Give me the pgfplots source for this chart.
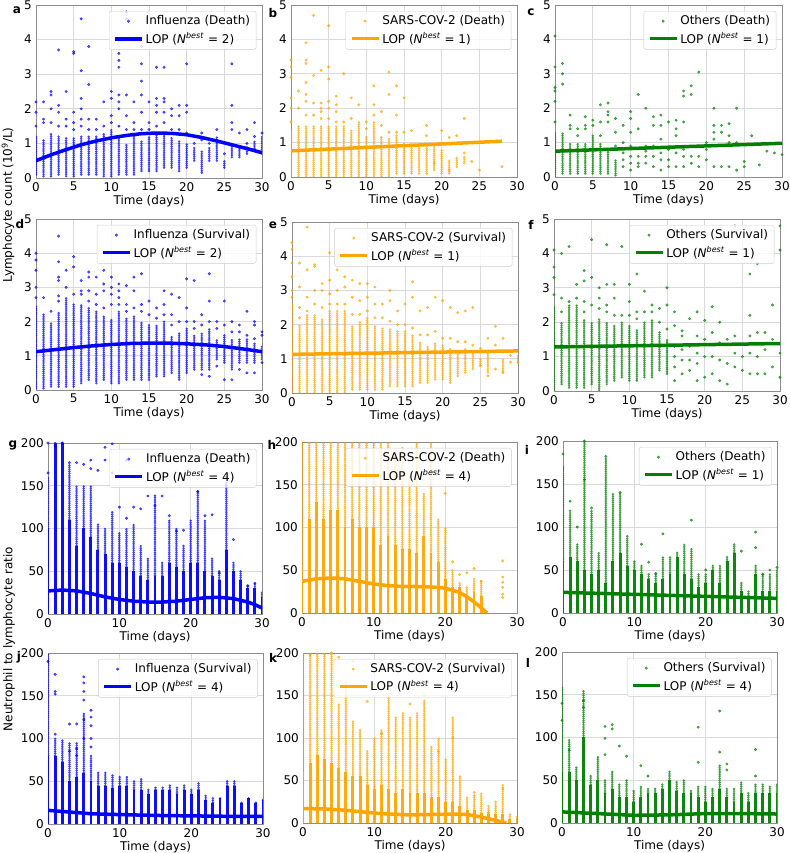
\documentclass[border=0pt]{standalone}
\usepackage{pgfplots}
\usepackage{pgfplotstable}
\pgfplotsset{compat=1.18}
\usepackage{fontspec}
\setmainfont{DejaVu Sans}
\newcommand\fs{\fontsize{12}{14}\selectfont}
\definecolor{cB}{RGB}{0,0,255}
\definecolor{cO}{RGB}{255,165,0}
\definecolor{cG}{RGB}{0,128,0}
\pgfplotsset{
  panel/.style={scale only axis, anchor=north west, xmin=0, xmax=30,
    grid=major, grid style={black!15, line width=0.7pt},
    axis line style={black!45}, tick style={draw=none},
    tick label style={font=\fs}, label style={font=\fs},
    xlabel={Time (days)}, xlabel style={yshift=4pt},
    /pgf/number format/assume math mode=true,
    legend style={at={(0.975,0.965)}, anchor=north east, draw=black!20,
      rounded corners=2pt, fill=white, fill opacity=0.8, text opacity=1,
      font=\fs, inner xsep=4pt, inner ysep=2.5pt, row sep=2pt, cells={anchor=west}}},
  toprow/.style={ymin=0, ymax=5, xtick={0,5,...,30}, ytick={0,1,...,5}},
  botrow/.style={ymin=0, ymax=200, xtick={0,10,20,30}, ytick={0,50,...,200}},
  colsolid/.style={forget plot, draw=none, mark=none, error bars/.cd, y dir=plus, y explicit, error mark=none,
    error bar style={draw=#1, line width=2.9pt, opacity=0.95}},
  coldot/.style={forget plot, draw=none, mark=none, error bars/.cd, y dir=plus, y explicit, error mark=none,
    error bar style={draw=#1, line width=2.7pt, opacity=0.75, line cap=round, dash pattern=on 0pt off 2.1pt}},
  pts/.style={only marks, color=#1, mark=*, mark size=1.3pt, mark options={solid, draw=none, fill=#1}, opacity=0.65,
    legend image code/.code={\draw[##1] plot coordinates {(13.5pt,0pt)};}},
  lop/.style={color=#1, line width=3.5pt, mark=none,
    legend image code/.code={\draw[##1, line width=3.5pt] (0pt,0pt) -- (27pt,0pt);}},
}
\newcommand\lopN[1]{LOP (\textit{N}\textsuperscript{\textit{best}} = #1)}
\begin{document}
\fs
\begin{tikzpicture}
\path[use as bounding box] (0pt,0pt) rectangle (789pt,853pt);
% ---------- a ----------
\begin{axis}[panel, toprow, at={(36pt,848pt)}, width=226pt, height=173pt]
\addplot[coldot=cB] table[x=x, y=lo, y error expr=\thisrow{hi}-\thisrow{lo}] {
x lo hi
0 0.1 1.2
1 0.05 1.1
2 0.05 1.3
3 0.1 1.2
4 0.05 1.2
5 0.05 1.2
6 0.1 1.2
7 0.1 1.2
8 0.1 1.2
9 0.05 1.3
10 0.05 1.4
11 0.1 1.2
12 0.1 1.0
13 0.1 1.2
14 0.2 1.1
15 0.2 1.2
16 0.2 1.3
17 0.3 1.3
18 0.3 1.2
19 0.2 1.1
20 0.3 1.0
21 0.5 0.9
22 0.15 0.8
23 0.5 0.9
24 0.5 1.2
25 0.3 0.5
26 0.6 1.0
27 0.6 0.9
28 0.7 0.9
29 0.8 1.1
30 0.7 1.2
};
\addplot[pts=cB] coordinates {(0,1.5)(0,1.9)(0,2.2)(1,1.6)(1,1.7)(1,2.2)(2,1.6)(2,2.0)(2,2.4)(2,2.5)(3,1.5)(3,1.9)(3,2.1)(3,3.7)(4,1.5)(4,1.7)(4,2.5)(5,1.4)(5,1.6)(5,1.9)(5,3.6)(5,3.65)(6,1.5)(6,1.7)(6,2.0)(6,2.3)(6,3.1)(6,4.6)(7,1.4)(7,1.7)(7,2.7)(7,3.8)(8,1.4)(8,1.7)(9,1.5)(9,2.2)(10,1.6)(10,1.8)(10,2.3)(10,2.5)(11,1.5)(11,2.0)(11,2.2)(11,2.4)(11,3.2)(11,3.4)(11,3.6)(12,1.4)(12,1.8)(12,2.4)(12,4.8)(12,4.6)(13,1.4)(13,1.6)(13,2.2)(14,1.4)(14,1.9)(14,2.4)(14,2.8)(14,3.3)(14,3.8)(15,1.4)(15,1.6)(15,2.2)(16,1.5)(16,1.9)(16,2.1)(16,2.3)(16,3.2)(17,1.6)(17,1.9)(17,2.2)(17,2.3)(17,3.2)(18,1.4)(18,1.8)(18,2.0)(19,1.4)(19,1.8)(19,2.1)(20,1.3)(20,1.9)(20,2.1)(20,3.3)(21,1.0)(22,1.1)(22,1.3)(23,1.0)(24,1.4)(25,0.7)(26,1.4)(26,1.6)(26,2.1)(26,3.3)(27,1.3)(28,1.0)(28,1.4)(29,1.2)(29,1.6)(30,1.3)};
\addlegendentry{Influenza (Death)}
\addplot[lop=cB] coordinates {(0,0.5)(2,0.67)(4,0.82)(6,0.96)(8,1.07)(10,1.16)(12,1.23)(14,1.28)(16,1.30)(18,1.29)(20,1.25)(22,1.17)(24,1.07)(26,0.96)(28,0.85)(30,0.73)};
\addlegendentry{\lopN{2}}
\end{axis}
% ---------- b ----------
\begin{axis}[panel, toprow, at={(291pt,848pt)}, width=226pt, height=172pt]
\addplot[coldot=cO] table[x=x, y=lo, y error expr=\thisrow{hi}-\thisrow{lo}] {
x lo hi
0 0 1.4
1 0 1.5
2 0 1.5
3 0 1.5
4 0 1.5
5 0 1.5
6 0 1.5
7 0 1.5
8 0 1.4
9 0 1.6
10 0 1.2
11 0 1.6
12 0 1.2
13 0 1.1
14 0.1 1.2
15 0.1 1.0
16 0.1 1.0
17 0.1 1.0
18 0.1 0.9
19 0.2 0.9
20 0.1 0.8
21 0.1 0.5
22 0.3 0.6
23 0.4 0.6
};
\addplot[pts=cO] coordinates {(0,1.6)(0,2.0)(0,2.3)(0,2.9)(0,3.2)(0,3.4)(1,2.0)(1,2.5)(2,1.8)(2,2.2)(2,2.4)(2,2.75)(2,3.3)(2,3.4)(2,3.9)(3,1.8)(3,2.15)(3,2.95)(3,4.7)(4,1.7)(4,1.9)(4,2.0)(4,2.15)(4,3.1)(5,1.7)(5,2.0)(5,2.2)(5,2.85)(5,3.2)(5,4.4)(6,1.6)(6,1.9)(6,2.1)(6,2.35)(7,1.6)(7,3.0)(8,1.7)(8,2.3)(9,2.1)(10,1.4)(10,1.6)(11,1.8)(11,2.1)(11,2.65)(12,1.5)(12,1.9)(13,1.3)(13,2.4)(13,3.05)(14,1.3)(14,1.8)(14,2.65)(15,1.3)(15,2.3)(16,1.35)(18,1.2)(18,1.5)(20,1.35)(21,1.15)(22,1.2)(23,1.7)(23,0.7)(24,0.45)(25,0.2)(28,0.3)(19,0.4)(21,0.2)};
\addlegendentry{SARS-COV-2 (Death)}
\addplot[lop=cO] coordinates {(0,0.76)(28,1.04)};
\addlegendentry{\lopN{1}}
\end{axis}
% ---------- c ----------
\begin{axis}[panel, toprow, at={(555pt,848pt)}, width=227pt, height=172pt]
\addplot[coldot=cG] table[x=x, y=lo, y error expr=\thisrow{hi}-\thisrow{lo}] {
x lo hi
0 0 1.3
1 0.1 1.3
2 0.1 1.0
3 0.1 1.0
4 0.1 1.0
5 0.1 1.2
6 0.1 1.0
7 0.1 0.8
8 0.05 0.5
};
\addplot[pts=cG] coordinates {(0,1.6)(0,2.2)(0,2.5)(0,2.6)(0,3.2)(0,4.1)(1,2.7)(1,3.0)(1,3.3)(2,1.4)(2,1.5)(2,1.8)(3,1.2)(3,1.4)(4,1.4)(4,1.5)(4,1.75)(5,1.5)(5,1.65)(6,1.2)(6,1.6)(6,2.1)(7,1.6)(7,1.8)(7,1.9)(7,2.15)(8,0.9)(8,1.3)(8,1.7)(9,0.3)(9,0.5)(9,0.7)(9,1.0)(9,1.5)(10,0.2)(10,0.4)(10,0.6)(10,0.9)(10,1.3)(10,1.7)(10,1.9)(11,0.3)(11,0.4)(11,0.6)(11,1.4)(11,2.4)(12,0.4)(12,0.6)(12,0.75)(12,0.9)(12,2.0)(13,0.3)(13,0.6)(13,0.9)(13,1.5)(13,1.75)(14,0.2)(14,0.5)(14,0.7)(14,1.1)(14,1.5)(14,1.8)(15,0.3)(15,0.5)(15,0.8)(15,1.6)(16,0.3)(16,0.7)(16,1.2)(16,1.4)(16,1.65)(17,0.3)(17,0.6)(17,0.8)(17,1.6)(17,2.35)(17,2.5)(18,0.4)(18,0.6)(18,2.4)(18,2.65)(19,0.3)(19,0.6)(19,0.9)(19,3.05)(20,0.5)(20,0.8)(20,1.0)(21,0.3)(21,1.1)(21,1.3)(21,1.5)(21,2.0)(22,0.3)(22,1.3)(22,1.5)(23,0.3)(23,1.0)(23,1.2)(23,1.55)(24,0.2)(24,1.0)(24,2.0)(25,0.3)(25,0.45)(26,1.2)(27,0.35)(28,0.75)(29,0.7)(30,0.65)};
\addlegendentry{Others (Death)}
\addplot[lop=cG] coordinates {(0,0.75)(30,0.98)};
\addlegendentry{\lopN{1}}
\end{axis}
% ---------- d ----------
\begin{axis}[panel, toprow, at={(36pt,634pt)}, width=226pt, height=171pt]
\addplot[coldot=cB] table[x=x, y=lo, y error expr=\thisrow{hi}-\thisrow{lo}] {
x lo hi
0 0.05 2.5
1 0.05 2.2
2 0.1 2.0
3 0.1 2.3
4 0.1 2.7
5 0.1 2.5
6 0.2 2.5
7 0.3 2.4
8 0.2 2.3
9 0.3 2.2
10 0.2 2.1
11 0.2 2.3
12 0.3 2.1
13 0.3 2.2
14 0.3 2.0
15 0.3 1.9
16 0.4 1.9
17 0.4 2.0
18 0.5 1.6
19 0.3 1.7
20 0.5 1.8
21 0.6 1.6
22 0.6 1.7
23 0.6 1.8
24 0.9 1.5
25 0.8 1.6
26 0.6 1.5
27 0.8 1.5
28 0.8 1.5
29 0.8 1.4
30 0.9 1.3
};
\addplot[pts=cB] coordinates {(0,2.7)(0,3.0)(0,3.5)(0,3.8)(0,4.0)(1,2.7)(2,2.3)(3,2.6)(3,2.75)(3,3.2)(3,3.3)(3,3.75)(3,4.5)(4,3.0)(4,3.5)(5,2.8)(5,3.6)(5,3.9)(6,2.8)(6,2.9)(6,3.2)(7,2.6)(7,2.9)(7,3.3)(7,3.45)(8,2.5)(8,2.8)(8,3.3)(9,2.4)(9,2.9)(9,3.1)(9,3.5)(10,2.5)(10,2.8)(10,3.0)(10,3.3)(11,2.5)(11,2.7)(11,2.9)(11,3.1)(12,2.3)(12,2.5)(12,3.05)(13,2.4)(13,2.9)(13,3.3)(14,2.3)(14,2.5)(14,3.4)(15,2.2)(15,2.6)(16,2.1)(16,2.4)(17,2.2)(17,2.5)(17,2.9)(18,1.9)(18,2.2)(18,2.8)(19,2.0)(19,2.7)(20,2.0)(20,2.4)(20,3.25)(21,1.8)(21,2.0)(21,3.2)(22,1.9)(22,2.2)(23,2.0)(23,2.6)(23,3.4)(24,1.8)(24,2.0)(25,1.9)(25,2.6)(26,1.7)(26,2.0)(27,1.7)(27,1.9)(28,1.6)(28,2.3)(29,1.5)(29,1.9)(29,2.0)(30,1.6)(30,1.7)(25,0.3)(26,0.3)(27,0.6)(28,0.5)(29,0.5)(30,0.8)(24,0.7)(23,0.4)(22,0.45)};
\addlegendentry{Influenza (Survival)}
\addplot[lop=cB] coordinates {(0,1.12)(2.5,1.18)(5,1.24)(7.5,1.29)(10,1.33)(12.5,1.36)(15,1.37)(17.5,1.37)(20,1.35)(22.5,1.32)(25,1.27)(27.5,1.2)(30,1.12)};
\addlegendentry{\lopN{2}}
\end{axis}
% ---------- e ----------
\begin{axis}[panel, toprow, at={(292pt,631pt)}, width=226pt, height=171pt]
\addplot[coldot=cO] table[x=x, y=lo, y error expr=\thisrow{hi}-\thisrow{lo}] {
x lo hi
0 0 2.6
1 0 2.0
2 0 2.3
3 0 2.3
4 0 2.2
5 0 2.4
6 0 2.4
7 0 2.4
8 0.1 2.0
9 0.1 2.1
10 0.1 2.2
11 0.1 2.0
12 0.1 1.9
13 0.2 1.9
14 0.2 1.8
15 0.2 1.8
16 0.2 1.7
17 0.3 1.5
18 0.3 1.4
19 0.4 1.5
20 0.4 1.4
21 0.3 1.3
22 0.5 1.2
23 0.6 1.3
24 0.7 1.2
25 0.8 1.0
26 0.6 1.2
28 0.6 1.0
30 0.9 1.1
};
\addplot[pts=cO] coordinates {(0,2.8)(0,3.0)(0,3.4)(0,3.8)(0,4.2)(0,4.4)(1,2.2)(1,2.5)(1,3.1)(1,3.8)(2,2.4)(2,2.8)(2,3.6)(2,4.85)(3,2.6)(3,3.0)(3,3.7)(3,3.75)(4,2.5)(4,3.0)(4,3.2)(5,2.6)(5,2.9)(5,3.3)(5,4.1)(6,2.6)(6,3.0)(6,3.6)(7,2.6)(7,3.1)(7,3.4)(8,2.3)(8,2.8)(8,3.3)(9,2.3)(9,2.7)(9,3.2)(10,2.4)(10,2.8)(10,3.2)(11,2.2)(11,2.6)(11,3.1)(12,2.2)(12,2.6)(13,2.1)(13,2.7)(13,3.0)(14,2.0)(14,2.4)(15,2.0)(15,2.6)(16,1.9)(16,2.8)(16,3.25)(17,1.7)(17,2.4)(18,1.7)(18,2.5)(19,1.8)(19,2.8)(20,1.6)(20,2.7)(21,1.6)(21,2.5)(22,1.5)(22,2.35)(23,1.5)(23,2.4)(24,1.4)(24,2.5)(25,1.3)(25,0.8)(26,1.6)(26,0.5)(27,1.4)(27,1.95)(27,0.7)(28,1.6)(28,0.6)(29,1.1)(29,0.9)(30,0.9)};
\addlegendentry{SARS-COV-2 (Survival)}
\addplot[lop=cO] coordinates {(0,1.13)(30,1.23)};
\addlegendentry{\lopN{1}}
\end{axis}
% ---------- f ----------
\begin{axis}[panel, toprow, at={(554pt,634pt)}, width=226pt, height=172pt]
\addplot[coldot=cG] table[x=x, y=lo, y error expr=\thisrow{hi}-\thisrow{lo}] {
x lo hi
0 0 2.5
1 0.2 2.0
2 0.1 2.5
3 0.1 2.5
4 0.1 2.1
5 0.2 2.0
6 0.0 2.1
7 0.2 2.0
8 0.3 1.9
9 0.4 2.0
10 0.3 1.9
11 0.3 1.8
12 0.4 2.0
13 0.4 2.1
14 0.6 1.7
15 0.5 1.5
};
\addplot[pts=cG] coordinates {(0,2.8)(0,3.3)(0,3.6)(0,4.1)(1,2.3)(1,2.7)(1,4.0)(2,2.6)(2,4.2)(3,2.7)(3,3.1)(4,2.3)(4,2.6)(4,3.2)(4,3.5)(5,2.5)(5,3.3)(5,4.4)(6,2.4)(6,2.7)(6,3.0)(7,2.3)(7,2.5)(7,3.1)(7,4.25)(8,2.2)(8,2.7)(8,3.1)(9,2.2)(9,4.2)(10,2.2)(10,2.6)(10,3.1)(11,2.1)(11,2.3)(11,3.4)(12,2.3)(12,2.9)(13,2.3)(13,2.5)(14,2.0)(14,2.4)(15,1.8)(15,2.5)(15,3.0)(16,0.3)(16,0.7)(16,1.0)(16,1.3)(16,1.9)(16,2.3)(17,0.5)(17,0.9)(17,1.2)(17,1.6)(17,1.75)(18,0.6)(18,0.9)(18,1.3)(18,2.1)(19,0.3)(19,0.8)(19,1.1)(19,1.6)(19,2.3)(20,0.4)(20,1.0)(20,1.5)(20,2.05)(21,0.5)(21,1.0)(21,1.7)(21,2.45)(22,0.3)(22,0.9)(22,1.4)(22,2.0)(23,0.2)(23,0.8)(23,1.5)(24,0.7)(24,1.1)(24,1.6)(24,4.8)(25,0.6)(25,1.0)(26,0.5)(26,1.1)(26,1.6)(26,2.2)(26,3.4)(27,0.5)(27,1.0)(27,1.7)(27,3.7)(28,0.5)(28,1.2)(28,1.7)(29,0.7)(29,1.5)(29,2.5)(30,0.4)(30,1.1)(30,4.8)(30,4.1)};
\addlegendentry{Others (Survival)}
\addplot[lop=cG] coordinates {(0,1.28)(30,1.38)};
\addlegendentry{\lopN{1}}
\end{axis}
% ---------- g ----------
\pgfplotstableread{
x s d
0 100 160
1 200 200
2 200 200
3 110 175
4 80 150
5 100 150
6 90 150
7 75 105
8 70 100
9 60 120
10 60 95
11 55 100
12 50 105
13 45 80
14 40 65
15 45 140
16 45 60
17 60 110
18 55 100
19 50 80
20 60 110
21 60 145
22 50 110
23 45 65
24 40 50
25 75 155
26 50 60
27 40 50
28 30 33
29 30 35
30 20 25
}\tg
\begin{axis}[panel, botrow, at={(48pt,410pt)}, width=214pt, height=171pt]
\addplot[colsolid=cB] table[x=x, y expr=0, y error=s] {\tg};
\addplot[coldot=cB] table[x=x, y=s, y error expr=\thisrow{d}-\thisrow{s}] {\tg};
\addplot[pts=cB] coordinates {(0,165)(0,200)(1,197)(2,200)(3,177)(4,177)(5,175)(6,170)(6,180)(7,168)(8,180)(8,195)(9,199)(9,165)(10,125)(11,112)(11,180)(12,125)(13,123)(14,138)(15,127)(16,138)(17,115)(18,97)(19,98)(21,143)(22,115)(23,116)(24,48)(25,160)(25,150)(26,87)(28,33)(29,36)};
\addlegendentry{Influenza (Death)}
\addplot[lop=cB] coordinates {(0,27)(2,28)(4,27)(6,24)(8,20)(10,17)(12,15)(14,14)(16,14)(18,15)(20,17)(22,19)(24,19.5)(26,18)(28,14)(29,11)(30,7)};
\addlegendentry{\lopN{4}}
\end{axis}
% ---------- h ----------
\pgfplotstableread{
x s d
0 50 200
1 110 200
2 130 200
3 110 200
4 120 200
5 120 200
6 100 200
7 110 200
8 100 200
9 100 200
10 100 200
11 80 200
12 90 200
13 80 190
14 75 195
15 75 160
16 70 200
17 90 140
18 70 200
19 60 110
20 40 100
21 30 50
22 30 35
23 20 30
24 25 40
25 20 38
}\th
\begin{axis}[panel, botrow, at={(302pt,411pt)}, width=215pt, height=171pt]
\addplot[colsolid=cO] table[x=x, y expr=0, y error=s] {\th};
\addplot[coldot=cO] table[x=x, y=s, y error expr=\thisrow{d}-\thisrow{s}] {\th};
\addplot[pts=cO] coordinates {(20,140)(23,47)(24,52)(25,37)(28,61)(28,42)(28,36)(28,30)(28,22)(28,18)(22,45)(21,60)};
\addlegendentry{SARS-COV-2 (Death)}
\addplot[lop=cO] coordinates {(0,37)(2,40)(4,41)(6,40)(8,37)(10,34)(12,32)(14,31)(16,31)(18,30.5)(20,29)(22,24)(23,19)(24,13)(25,6)(25.8,0)};
\addlegendentry{\lopN{4}}
\end{axis}
% ---------- i ----------
\pgfplotstableread{
x s d
0 60 170
1 65 120
2 60 80
3 50 200
4 45 120
5 50 70
6 35 180
7 60 140
8 70 140
9 55 90
10 50 60
11 45 55
12 40 45
13 35 45
14 40 65
15 45 65
16 65 70
17 45 80
18 40 75
19 30 45
20 35 45
21 50 55
22 35 55
23 60 65
24 70 82
25 25 35
26 20 27
27 45 55
28 25 45
29 25 45
30 25 50
}\ti
\begin{axis}[panel, botrow, at={(563pt,412pt)}, width=214pt, height=172pt]
\addplot[colsolid=cG] table[x=x, y expr=0, y error=s] {\ti};
\addplot[coldot=cG] table[x=x, y=s, y error expr=\thisrow{d}-\thisrow{s}] {\ti};
\addplot[pts=cG] coordinates {(0,185)(1,130)(2,100)(3,200)(3,155)(4,122)(6,182)(8,140)(11,80)(12,59)(13,46)(14,92)(18,108)(20,50)(25,72)(27,94)(27,76)(28,45)(29,50)(30,53)};
\addlegendentry{Others (Death)}
\addplot[lop=cG] coordinates {(0,24)(30,17)};
\addlegendentry{\lopN{1}}
\end{axis}
% ---------- j ----------
\pgfplotstableread{
x s d
0 80 200
1 80 100
2 73 100
3 50 95
4 55 95
5 60 130
6 50 80
7 45 62
8 45 60
9 42 58
10 45 55
11 45 55
12 40 52
13 40 54
14 35 40
15 40 44
16 40 44
17 40 45
18 35 43
19 40 46
20 35 40
21 40 48
22 28 35
23 25 32
24 30 32
25 45 51
26 45 51
27 25 27
28 30 31
29 25 27
30 28 29
}\tj
\begin{axis}[panel, botrow, at={(48pt,200pt)}, width=215pt, height=171pt]
\addplot[colsolid=cB] table[x=x, y expr=0, y error=s] {\tj};
\addplot[coldot=cB] table[x=x, y=s, y error expr=\thisrow{d}-\thisrow{s}] {\tj};
\addplot[pts=cB] coordinates {(0,190)(1,175)(1,155)(1,152)(1,105)(3,117)(3,85)(4,117)(4,88)(4,80)(5,172)(5,165)(5,155)(5,145)(5,122)(5,100)(6,133)(6,125)(6,115)(6,100)(6,90)};
\addlegendentry{Influenza (Survival)}
\addplot[lop=cB] coordinates {(0,16)(3,14)(6,12)(10,11)(15,10)(20,9.5)(25,9)(30,9)};
\addlegendentry{\lopN{4}}
\end{axis}
% ---------- k ----------
\pgfplotstableread{
x s d
0 60 200
1 70 200
2 80 200
3 75 200
4 70 200
5 65 140
6 60 160
7 55 120
8 55 110
9 45 85
10 40 100
11 45 110
12 40 150
13 35 125
14 40 130
15 35 125
16 35 130
17 35 145
18 30 90
19 30 100
20 25 75
21 25 125
22 20 55
23 15 30
24 15 33
25 12 35
26 10 22
27 10 25
28 10 45
29 5 12
30 5 8
}\tk
\begin{axis}[panel, botrow, at={(303pt,200pt)}, width=214pt, height=170pt]
\addplot[colsolid=cO] table[x=x, y expr=0, y error=s] {\tk};
\addplot[coldot=cO] table[x=x, y=s, y error expr=\thisrow{d}-\thisrow{s}] {\tk};
\addplot[pts=cO] coordinates {(1,198)(4,200)(5,195)(6,165)(7,190)(9,143)(10,163)(11,105)(13,160)(15,140)(17,150)(19,84)(21,100)(24,36)(28,40)(26,12)};
\addlegendentry{SARS-COV-2 (Survival)}
\addplot[lop=cO] coordinates {(0,17)(3,16.5)(6,15)(9,12.5)(12,10.5)(15,9.5)(18,10)(21,10.5)(23,10)(25,7)(27,3)(28.5,0)};
\addlegendentry{\lopN{4}}
\end{axis}
% ---------- l ----------
\pgfplotstableread{
x s d
0 60 160
1 60 97
2 50 65
3 100 155
4 45 57
5 50 78
6 35 50
7 40 60
8 30 45
9 30 50
10 25 38
11 30 43
12 35 42
13 35 42
14 40 47
15 50 62
16 38 49
17 35 50
18 35 38
19 30 44
20 25 44
21 30 42
22 40 68
23 30 40
24 25 42
25 35 48
26 25 37
27 35 45
28 35 45
29 35 44
30 35 46
}\tl
\begin{axis}[panel, botrow, at={(562pt,201pt)}, width=215pt, height=171pt]
\addplot[colsolid=cG] table[x=x, y expr=0, y error=s] {\tl};
\addplot[coldot=cG] table[x=x, y=s, y error expr=\thisrow{d}-\thisrow{s}] {\tl};
\addplot[pts=cG] coordinates {(0,140)(0,120)(1,85)(3,143)(3,135)(6,113)(6,99)(6,80)(7,115)(7,110)(8,90)(9,78)(11,67)(12,55)(19,112)(19,71)(22,131)(22,83)(23,69)(23,62)(27,86)(27,55)};
\addlegendentry{Others (Survival)}
\addplot[lop=cG] coordinates {(0,13)(5,11)(10,9)(15,9.5)(20,11)(25,11)(30,10.5)};
\addlegendentry{\lopN{4}}
\end{axis}
% ---------- letters and shared labels ----------
\begin{scope}[every node/.style={font=\fs\bfseries}]
\node at (17pt,843pt) {a};
\node at (273pt,840pt) {b};
\node at (531pt,841pt) {c};
\node at (20pt,629pt) {d};
\node at (273pt,628pt) {e};
\node at (531pt,628pt) {f};
\node at (13pt,408pt) {g};
\node at (272pt,408pt) {h};
\node at (527pt,403pt) {i};
\node at (19pt,196pt) {j};
\node at (273pt,195pt) {k};
\node at (528pt,190pt) {l};
\end{scope}
\node[rotate=90, font=\fs] at (8pt,648pt) {Lymphocyte count (10\textsuperscript{9}/L)};
\node[rotate=90, font=\fs] at (9pt,214pt) {Neutrophil to lymphocyte ratio};
\end{tikzpicture}
\end{document}
